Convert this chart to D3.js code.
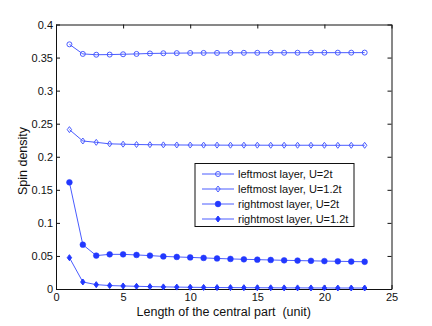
<!DOCTYPE html>
<html>
<head>
<meta charset="utf-8">
<script src="https://cdn.jsdelivr.net/npm/d3@7"></script>
<style>
  body { margin: 0; background: #fff; }
  text { font-family: "Liberation Sans", Arial, sans-serif; fill: #111; }
</style>
</head>
<body>
<svg class="chart" width="432" height="326"></svg>
<script>
  // data
  var xs = [1,2,3,4,5,6,7,8,9,10,11,12,13,14,15,16,17,18,19,20,21,22,23];
  var leftU2 = [0.370,0.3555,0.3543,0.3545,0.355,0.3555,0.3562,0.3565,0.3567,0.3569,0.357,0.357,0.3571,0.3572,0.3572,0.3573,0.3573,0.3573,0.3574,0.3574,0.3574,0.3574,0.3575];
  var leftU12 = [0.241,0.2238,0.2218,0.2195,0.219,0.2185,0.2182,0.218,0.2178,0.2177,0.2176,0.2176,0.2175,0.2175,0.2175,0.2174,0.2174,0.2174,0.2174,0.2173,0.2173,0.2173,0.2173];
  var rightU2 = [0.1613,0.067,0.0505,0.0524,0.0524,0.0515,0.0505,0.0493,0.0485,0.0478,0.047,0.0462,0.0455,0.0449,0.0444,0.0439,0.0434,0.043,0.0426,0.0422,0.0419,0.0415,0.0412];
  var rightU12 = [0.0474,0.0106,0.0066,0.0052,0.0046,0.0041,0.0036,0.0032,0.0029,0.0026,0.0024,0.0022,0.0021,0.002,0.0019,0.0018,0.0017,0.0017,0.0016,0.0016,0.0015,0.0015,0.0015];
  var seriesNames = ["leftmost layer, U=2t", "leftmost layer, U=1.2t", "rightmost layer, U=2t", "rightmost layer, U=1.2t"];
  var xTicks = [0,5,10,15,20,25];
  var yTicks = [0,0.05,0.1,0.15,0.2,0.25,0.3,0.35,0.4];

  var mLeft = 56, mTop = 24.5, mRight = 391.5, mBottom = 289;
  var lineColor = "#4a5cff", markColor = "#2238ff";

  var x = d3.scaleLinear().domain([0, 25]).range([mLeft, mRight]);
  var y = d3.scaleLinear().domain([0, 0.4]).range([mBottom, mTop]);

  var svg = d3.select(".chart");

  // axes with inward ticks on all four sides
  svg.append("g").attr("transform", "translate(0," + mBottom + ")")
    .call(d3.axisBottom(x).tickValues(xTicks).tickSizeInner(-4).tickSizeOuter(0).tickPadding(4));
  svg.append("g").attr("transform", "translate(0," + mTop + ")")
    .call(d3.axisTop(x).tickValues(xTicks).tickSizeInner(-4).tickSizeOuter(0).tickFormat(""));
  svg.append("g").attr("transform", "translate(" + mLeft + ",0)")
    .call(d3.axisLeft(y).tickValues(yTicks).tickSizeInner(-4).tickSizeOuter(0).tickPadding(3)
      .tickFormat(function(d) { return d3.format("~g")(d); }));
  svg.append("g").attr("transform", "translate(" + mRight + ",0)")
    .call(d3.axisRight(y).tickValues(yTicks).tickSizeInner(-4).tickSizeOuter(0).tickFormat(""));

  svg.selectAll(".domain").attr("stroke", "#111");
  svg.selectAll(".tick line").attr("stroke", "#111");
  svg.selectAll(".tick text").attr("font-size", 11).attr("font-family", "Liberation Sans, Arial, sans-serif").attr("fill", "#111");

  // axis labels
  svg.append("text")
    .attr("x", (mLeft + mRight) / 2).attr("y", 316)
    .attr("text-anchor", "middle").attr("font-size", 12.5)
    .style("white-space", "pre")
    .text("Length of the central part  (unit)");
  svg.append("text")
    .attr("transform", "translate(26.5,161) rotate(-90)")
    .attr("text-anchor", "middle").attr("font-size", 12.5)
    .text("Spin density");

  var series = [
    { values: leftU2, shape: "circle", r: 2.5, fill: "none" },
    { values: leftU12, shape: "diamond", fill: "none" },
    { values: rightU2, shape: "circle", r: 2.9, fill: markColor },
    { values: rightU12, shape: "diamond", fill: markColor }
  ];

  var line = d3.line()
    .x(function(d, i) { return x(xs[i]); })
    .y(function(d) { return y(d); });

  function drawMarker(g, s, px, py) {
    var col = s.fill === "none" ? lineColor : markColor;
    if (s.shape === "circle") {
      g.append("circle").attr("cx", px).attr("cy", py).attr("r", s.r)
        .attr("fill", s.fill).attr("stroke", col).attr("stroke-width", s.fill === "none" ? 1 : 0.5);
    } else {
      g.append("path").attr("d", "M0,-3L2.2,0L0,3L-2.2,0Z")
        .attr("transform", "translate(" + px + "," + py + ")")
        .attr("fill", s.fill).attr("stroke", col).attr("stroke-width", 1);
    }
  }

  series.forEach(function(s) {
    var g = svg.append("g");
    g.append("path").datum(s.values).attr("d", line)
      .attr("fill", "none").attr("stroke", lineColor).attr("stroke-width", 1);
    s.values.forEach(function(v, i) { drawMarker(g, s, x(xs[i]), y(v)); });
  });

  // legend
  var lg = svg.append("g");
  lg.append("rect").attr("x", 195).attr("y", 163.5).attr("width", 159).attr("height", 63)
    .attr("fill", "#fff").attr("stroke", "#111").attr("stroke-width", 1);
  var rowY = [174, 189, 204, 219];
  series.forEach(function(s, i) {
    lg.append("line").attr("x1", 202).attr("x2", 234).attr("y1", rowY[i]).attr("y2", rowY[i])
      .attr("stroke", lineColor).attr("stroke-width", 1);
    drawMarker(lg, s, 218, rowY[i]);
    lg.append("text").attr("x", 238).attr("y", rowY[i]).attr("dy", ".35em")
      .attr("font-size", 11).text(seriesNames[i]);
  });
</script>
</body>
</html>
